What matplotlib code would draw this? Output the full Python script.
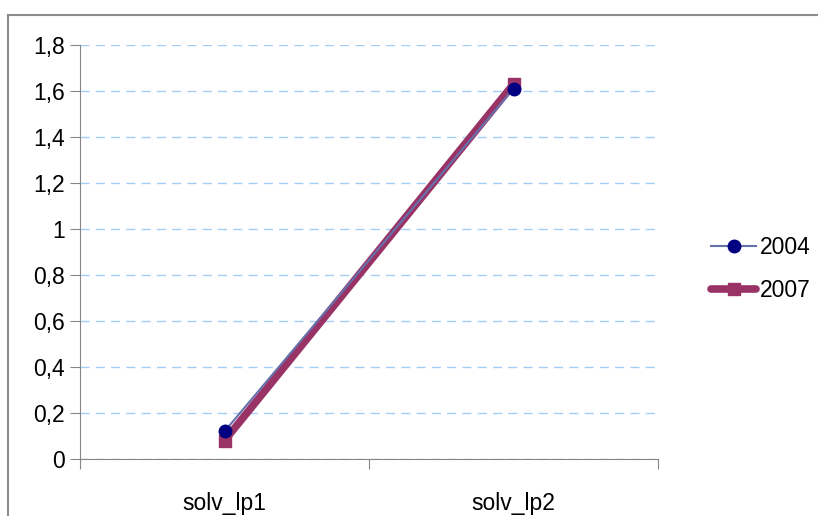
import numpy as np
import matplotlib.pyplot as plt
from matplotlib.lines import Line2D

categories = ["solv_lp1", "solv_lp2"]
series_names = ["2004", "2007"]
values_2004 = [0.12, 1.61]
values_2007 = [0.08, 1.63]
y_ticks = [0, 0.2, 0.4, 0.6, 0.8, 1, 1.2, 1.4, 1.6, 1.8]

plt.rcParams['font.family'] = ['Liberation Sans', 'DejaVu Sans']

fig = plt.figure(figsize=(8.18, 5.16), dpi=100)
ax = fig.add_axes([80 / 818, 1 - 459 / 516, 578 / 818, 414 / 516])

# outer chart border (only top and left visible)
fig.add_artist(Line2D([8 / 818, 8 / 818], [0, 1 - 15 / 516], color="#8c8c8c", lw=1.5))
fig.add_artist(Line2D([8 / 818, 1], [1 - 15 / 516, 1 - 15 / 516], color="#8c8c8c", lw=1.5))

x = np.arange(len(categories)) + 0.5
ax.plot(x, values_2004, color="#6670aa", lw=1.5, marker="o", ms=9,
        mfc="#000080", mec="#000080", label=series_names[0], zorder=3)
ax.plot(x, values_2007, color="#993366", lw=5.5, marker="s", ms=9,
        mfc="#993366", mec="#993366", label=series_names[1], zorder=2,
        solid_capstyle="round")

ax.set_xlim(0, len(categories))
ax.set_ylim(0, 1.8)
ax.set_yticks(y_ticks)
ax.set_yticklabels([("%g" % v).replace(".", ",") for v in y_ticks], fontsize=16.5)
ax.yaxis.grid(True, color="#8ec0f7", ls=(0, (6.5, 4.5)), lw=1, alpha=0.8)
ax.set_axisbelow(True)

ax.set_xticks([0, 1, 2])
ax.set_xticklabels([])
ax.set_xticks(x, minor=True)
ax.set_xticklabels(categories, minor=True, fontsize=16.5)
ax.tick_params(axis="x", which="minor", length=0, pad=24)
ax.tick_params(axis="x", which="major", length=7, color="#868686", direction="out")
ax.tick_params(axis="y", length=7, color="#868686", direction="out", pad=4)

for s in ["top", "right"]:
    ax.spines[s].set_visible(False)
for s in ["left", "bottom"]:
    ax.spines[s].set_color("#868686")

fig.legend(loc="center left", bbox_to_anchor=(690 / 818, 1 - 269 / 516),
           frameon=False, fontsize=16.5, handlelength=2.0, labelspacing=0.9,
           handletextpad=0.15)

fig.savefig("out.png", dpi=100)
